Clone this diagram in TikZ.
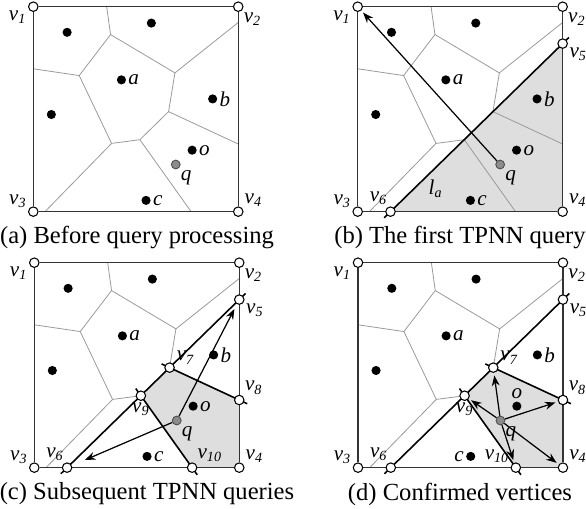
\documentclass[tikz,border=0pt]{standalone}
\usepackage{fontspec}
\setmainfont{Liberation Serif}
\usetikzlibrary{arrows.meta,calc,positioning}
\pgfdeclarelayer{shade}
\pgfdeclarelayer{edges}
\pgfsetlayers{shade,edges,main}

\newcommand{\vn}[1]{\textit{v}\textsubscript{\textit{#1}}}

% square, voronoi cells and sites, shared by all four panels
% #1 = name prefix, #2 = side of label o, #3 = side of label c
\newcommand{\voronoibase}[3]{%
  % voronoi vertices
  \coordinate (#1-t1) at (0.358,0);
  \coordinate (#1-va) at (0.377,0.136);
  \coordinate (#1-vb) at (0.224,0.336);
  \coordinate (#1-l1) at (0,0.303);
  \coordinate (#1-vc) at (0.691,0.323);
  \coordinate (#1-r1) at (1,0.077);
  \coordinate (#1-vd) at (0.66,0.512);
  \coordinate (#1-r2) at (1,0.67);
  \coordinate (#1-ve) at (0.382,0.667);
  \coordinate (#1-vf) at (0.52,0.649);
  \coordinate (#1-b1) at (0.057,1);
  \coordinate (#1-b2) at (0.77,1);
  % corners
  \node[vtx, label={[lbl]200:\vn{1}}] (#1-v1) at (0,0) {};
  \node[vtx, label={[lbl]310:\vn{2}}] (#1-v2) at (1,0) {};
  \node[vtx, label={[lbl]155:\vn{3}}] (#1-v3) at (0,1) {};
  \node[vtx, label={[lbl]35:\vn{4}}] (#1-v4) at (1,1) {};
  \begin{pgfonlayer}{edges}
    \draw[vedge] (#1-t1) -- (#1-va) -- (#1-vb) -- (#1-l1);
    \draw[vedge] (#1-va) -- (#1-vc) -- (#1-r1);
    \draw[vedge] (#1-vc) -- (#1-vd) -- (#1-r2);
    \draw[vedge] (#1-vb) -- (#1-ve) -- (#1-vf) -- (#1-vd);
    \draw[vedge] (#1-ve) -- (#1-b1);
    \draw[vedge] (#1-vf) -- (#1-b2);
    \draw[frame] (#1-v1) -- (#1-v2) -- (#1-v4) -- (#1-v3) -- (#1-v1);
  \end{pgfonlayer}
  % sites
  \node[site] (#1-s1) at (0.165,0.125) {};
  \node[site] (#1-s2) at (0.576,0.08) {};
  \node[site, label={[lbl]right:\textit{a}}] (#1-a) at (0.43,0.357) {};
  \node[site, label={[lbl]right:\textit{b}}] (#1-b) at (0.875,0.45) {};
  \node[site] (#1-s5) at (0.088,0.526) {};
  \node[site, label={[lbl]#2:\textit{o}}] (#1-o) at (0.775,0.70) {};
  \node[site, label={[lbl]#3:\textit{c}}] (#1-c) at (0.55,0.945) {};
  \node[qpt, label={[lbl]-50:\textit{q}}] (#1-q) at (0.695,0.77) {};
}

\begin{document}
\begin{tikzpicture}[x=0.02cm, y=-0.02cm,
    frame/.style={draw=black!80, line width=0.7pt},
    vedge/.style={draw=black!40, line width=0.45pt},
    bis/.style={draw=black, line width=0.9pt},
    shadefill/.style={fill=black!13},
    vtx/.style={circle, draw=black, fill=white, line width=0.6pt, inner sep=0pt, minimum size=5.4pt},
    site/.style={circle, fill=black, inner sep=0pt, minimum size=5.2pt},
    qpt/.style={circle, draw=black!70, fill=black!45, line width=0.5pt, inner sep=0pt, minimum size=5pt},
    lbl/.style={font=\fontsize{12}{14}\selectfont, inner sep=1pt},
    arr/.style={-{Stealth[length=6pt,width=4.5pt]}, line width=0.7pt, shorten >=1.5pt},
    captext/.style={font=\fontsize{14}{16}\selectfont, inner sep=0pt}]
  \useasboundingbox (0,0) rectangle (586,509);

  % (a) before query processing
  \begin{scope}[shift={(33.3,6.7)}, x=4.1cm, y=-4.1cm]
    \voronoibase{pa}{right}{right}
  \end{scope}

  % (b) first TPNN query
  \begin{scope}[shift={(357.7,6.7)}, x=4.1cm, y=-4.1cm]
    \voronoibase{pb}{right}{right}
    \node[vtx, label={[lbl]335:\vn{5}}] (pb-v5) at (1,0.18) {};
    \node[vtx, label={[lbl]105:\vn{6}}] (pb-v6) at (0.16,1) {};
    \node[lbl] (pb-la) at (0.38,0.89) {\textit{l}\textsubscript{\textit{a}}};
    \begin{pgfonlayer}{shade}
      \fill[shadefill] (pb-v6.center) -- (pb-v5.center) -- (pb-v4.center) -- cycle;
    \end{pgfonlayer}
    \begin{pgfonlayer}{edges}
      \draw[bis] ($(pb-v6)!-5pt!(pb-v5)$) -- ($(pb-v5)!-5pt!(pb-v6)$);
    \end{pgfonlayer}
    \draw[arr] (pb-q) -- (pb-v1);
  \end{scope}

  % (c) subsequent TPNN queries
  \begin{scope}[shift={(34.3,262.7)}, x=4.1cm, y=-4.1cm]
    \voronoibase{pc}{right}{right}
    \node[vtx, label={[lbl]335:\vn{5}}] (pc-v5) at (1,0.18) {};
    \node[vtx, label={[lbl]105:\vn{6}}] (pc-v6) at (0.16,1) {};
    \node[vtx, label={[lbl]15:\vn{7}}] (pc-v7) at (pc-vd) {};
    \node[vtx, label={[lbl]45:\vn{8}}] (pc-v8) at (pc-r2) {};
    \node[vtx, label={[lbl]below:\vn{9}}] (pc-v9) at (pc-vf) {};
    \node[vtx, label={[lbl]50:\vn{10}}] (pc-v10) at (pc-b2) {};
    \begin{pgfonlayer}{shade}
      \fill[shadefill] (pc-v9.center) -- (pc-v7.center) -- (pc-v8.center) -- (pc-v4.center) -- (pc-v10.center) -- cycle;
    \end{pgfonlayer}
    \begin{pgfonlayer}{edges}
      \draw[bis] ($(pc-v6)!-5pt!(pc-v5)$) -- ($(pc-v5)!-5pt!(pc-v6)$);
      \draw[bis] ($(pc-v7)!-5pt!(pc-v8)$) -- ($(pc-v8)!-5pt!(pc-v7)$);
      \draw[bis] ($(pc-v9)!-5pt!(pc-v10)$) -- ($(pc-v10)!-5pt!(pc-v9)$);
    \end{pgfonlayer}
    \draw[arr, shorten >=3pt] (pc-q) -- (pc-v5);
    \draw[arr, shorten >=8pt] (pc-q) -- (pc-v6);
  \end{scope}

  % (d) confirmed vertices
  \begin{scope}[shift={(358,262.7)}, x=4.1cm, y=-4.1cm]
    \voronoibase{pd}{above}{left}
    \node[vtx, label={[lbl]335:\vn{5}}] (pd-v5) at (1,0.18) {};
    \node[vtx, label={[lbl]105:\vn{6}}] (pd-v6) at (0.16,1) {};
    \node[vtx, label={[lbl]15:\vn{7}}] (pd-v7) at (pd-vd) {};
    \node[vtx, label={[lbl]45:\vn{8}}] (pd-v8) at (pd-r2) {};
    \node[vtx, label={[lbl]below:\vn{9}}] (pd-v9) at (pd-vf) {};
    \node[vtx, label={[lbl]150:\vn{10}}] (pd-v10) at (pd-b2) {};
    \begin{pgfonlayer}{shade}
      \fill[shadefill] (pd-v9.center) -- (pd-v7.center) -- (pd-v8.center) -- (pd-v4.center) -- (pd-v10.center) -- cycle;
    \end{pgfonlayer}
    \begin{pgfonlayer}{edges}
      \draw[bis] ($(pd-v6)!-5pt!(pd-v5)$) -- ($(pd-v5)!-5pt!(pd-v6)$);
      \draw[bis] ($(pd-v7)!-5pt!(pd-v8)$) -- ($(pd-v8)!-5pt!(pd-v7)$);
      \draw[bis] ($(pd-v9)!-5pt!(pd-v10)$) -- ($(pd-v10)!-5pt!(pd-v9)$);
    \end{pgfonlayer}
    \draw[arr] (pd-q) -- (pd-v7);
    \draw[arr] (pd-q) -- (pd-v8);
    \draw[arr] (pd-q) -- (pd-v9);
    \draw[arr] (pd-q) -- (pd-v10);
    \draw[arr] (pd-q) -- (pd-v4);
  \end{scope}

  % captions
  \node[captext] (capa) at (137,238) {(a) Before query processing};
  \node[captext] (capb) at (460,238) {(b) The first TPNN query};
  \node[captext] (capc) at (147,494) {(c) Subsequent TPNN queries};
  \node[captext] (capd) at (460,494) {(d) Confirmed vertices};
\end{tikzpicture}
\end{document}
